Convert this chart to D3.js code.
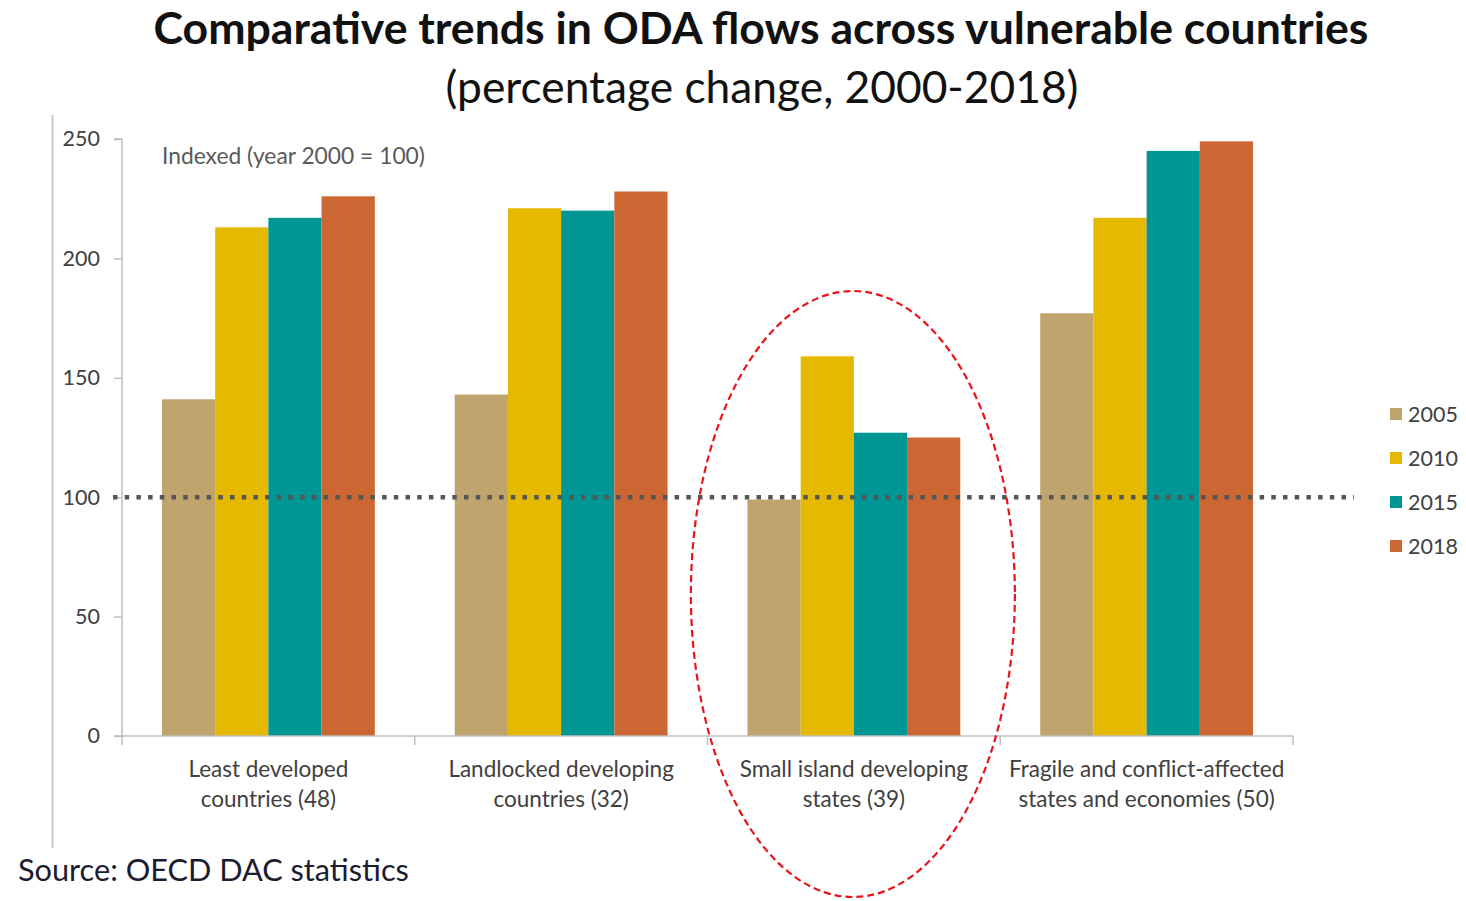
<!DOCTYPE html>
<html>
<head>
<meta charset="utf-8">
<script src="https://cdn.jsdelivr.net/npm/d3@7/dist/d3.min.js"></script>
<style>
  html, body { margin: 0; padding: 0; background: #fff; }
  svg { display: block; font-family: Lato, "Open Sans", sans-serif; }
</style>
</head>
<body>
<svg id="chart" width="1466" height="901"></svg>
<script>
// Country groupings (two-line labels)
const categories = [
  ["Least developed", "countries (48)"],
  ["Landlocked developing", "countries (32)"],
  ["Small island developing", "states (39)"],
  ["Fragile and conflict-affected", "states and economies (50)"]
];
const years = ["2005", "2010", "2015", "2018"];

// ODA index values (year 2000 = 100), one array per year
const values2005 = [141, 143, 99, 177];
const values2010 = [213, 221, 159, 217];
const values2015 = [217, 220, 127, 245];
const values2018 = [226, 228, 125, 249];

const yTicks = [0, 50, 100, 150, 200, 250];
const baseline = 100;

const colors = ["#BFA46E", "#E5B900", "#009694", "#CC6633"];

const series = [values2005, values2010, values2015, values2018];
const data = categories.map((c, i) => ({
  key: i,
  label: c,
  vals: years.map((y, j) => ({ year: y, value: series[j][i] }))
}));

const svg = d3.select("#chart");

// Helper: fit a text node to a target width by scaling its font size
function fitWidth(sel, target) {
  const node = sel.node();
  const w = node.getComputedTextLength();
  const fs = parseFloat(sel.attr("font-size"));
  sel.attr("font-size", (fs * target / w).toFixed(2));
}

// Title and subtitle
const title = svg.append("text")
  .attr("x", 761).attr("y", 44)
  .attr("text-anchor", "middle")
  .attr("font-weight", 700)
  .attr("font-size", 40)
  .attr("fill", "#111")
  .text("Comparative trends in ODA flows across vulnerable countries");
fitWidth(title, 1215);

const subtitle = svg.append("text")
  .attr("x", 762).attr("y", 103)
  .attr("text-anchor", "middle")
  .attr("font-size", 42)
  .attr("fill", "#111")
  .text("(percentage change, 2000-2018)");
fitWidth(subtitle, 633);

// Plot scales
const x0 = d3.scaleBand()
  .domain(d3.range(categories.length))
  .range([122, 1293])
  .paddingInner(0.273)
  .paddingOuter(0.1365);

const x1 = d3.scaleBand()
  .domain(years)
  .range([0, x0.bandwidth()]);

const y = d3.scaleLinear().domain([0, 250]).range([736, 139]);

const color = d3.scaleOrdinal().domain(years).range(colors);

// Frame line on the left
svg.append("line")
  .attr("x1", 52.5).attr("x2", 52.5)
  .attr("y1", 115).attr("y2", 848)
  .attr("stroke", "#c9c9c9").attr("stroke-width", 2);

// Bars
const groups = svg.append("g").selectAll("g")
  .data(data).join("g")
  .attr("transform", d => `translate(${x0(d.key)},0)`);

groups.selectAll("rect")
  .data(d => d.vals).join("rect")
  .attr("x", d => x1(d.year))
  .attr("width", x1.bandwidth())
  .attr("y", d => y(d.value))
  .attr("height", d => y(0) - y(d.value))
  .attr("fill", d => color(d.year));

// Y axis
const yAxis = svg.append("g")
  .attr("transform", "translate(122,0)")
  .call(d3.axisLeft(y).tickValues(yTicks).tickSize(8).tickPadding(14));
yAxis.select(".domain").attr("stroke", "#bfbfbf").attr("stroke-width", 1.5)
  .attr("d", `M-8,${y(250)}H0V${y(0)}`);
yAxis.selectAll(".tick line").attr("stroke", "#bfbfbf").attr("stroke-width", 1.5);
yAxis.selectAll(".tick text")
  .attr("font-size", 21.5).attr("fill", "#404040")
  .attr("font-family", "Lato, sans-serif");

// X axis baseline with category separators
const xAxisG = svg.append("g");
xAxisG.append("line")
  .attr("x1", 114).attr("x2", 1293)
  .attr("y1", y(0)).attr("y2", y(0))
  .attr("stroke", "#bfbfbf").attr("stroke-width", 1.5);
const bounds = d3.range(categories.length + 1).map(i => x0.range()[0] + i * x0.step());
xAxisG.selectAll("line.sep")
  .data(bounds).join("line").attr("class", "sep")
  .attr("x1", d => d).attr("x2", d => d)
  .attr("y1", y(0)).attr("y2", y(0) + 9)
  .attr("stroke", "#bfbfbf").attr("stroke-width", 1.5);

// Category labels
const catLabels = svg.append("g").selectAll("text")
  .data(data).join("text")
  .attr("x", d => x0(d.key) + x0.bandwidth() / 2)
  .attr("y", 777)
  .attr("text-anchor", "middle")
  .attr("font-size", 22.5)
  .attr("fill", "#404040");
catLabels.append("tspan")
  .attr("x", d => x0(d.key) + x0.bandwidth() / 2)
  .text(d => d.label[0]);
catLabels.append("tspan")
  .attr("x", d => x0(d.key) + x0.bandwidth() / 2)
  .attr("dy", 30)
  .text(d => d.label[1]);

// Reference line at index 100
svg.append("line")
  .attr("x1", 113).attr("x2", 1354)
  .attr("y1", y(baseline)).attr("y2", y(baseline))
  .attr("stroke", "#555555")
  .attr("stroke-width", 4.5)
  .attr("stroke-dasharray", "4.5 7.2");

// Note on index base
const note = svg.append("text")
  .attr("x", 162).attr("y", 164)
  .attr("font-size", 18)
  .attr("fill", "#595959")
  .text("Indexed (year 2000 = 100)");
fitWidth(note, 263);

// Legend
const legend = svg.append("g").selectAll("g")
  .data(years).join("g")
  .attr("transform", (d, i) => `translate(1390,${414 + i * 44})`);
legend.append("rect")
  .attr("x", 0).attr("y", -6)
  .attr("width", 12).attr("height", 12)
  .attr("fill", d => color(d));
legend.append("text")
  .attr("x", 18).attr("y", 8)
  .attr("font-size", 21.5)
  .attr("fill", "#404040")
  .text(d => d);

// Highlight around small island developing states
const sids = x0(2) + x0.bandwidth() / 2;
svg.append("ellipse")
  .attr("cx", sids - 1).attr("cy", 594)
  .attr("rx", 162).attr("ry", 303)
  .attr("fill", "none")
  .attr("stroke", "#e8141a")
  .attr("stroke-width", 2.2)
  .attr("stroke-dasharray", "7 4");

// Source
const src = svg.append("text")
  .attr("x", 18).attr("y", 881)
  .attr("font-size", 29)
  .attr("fill", "#1c1c30")
  .text("Source: OECD DAC statistics");
fitWidth(src, 391);
</script>
</body>
</html>
